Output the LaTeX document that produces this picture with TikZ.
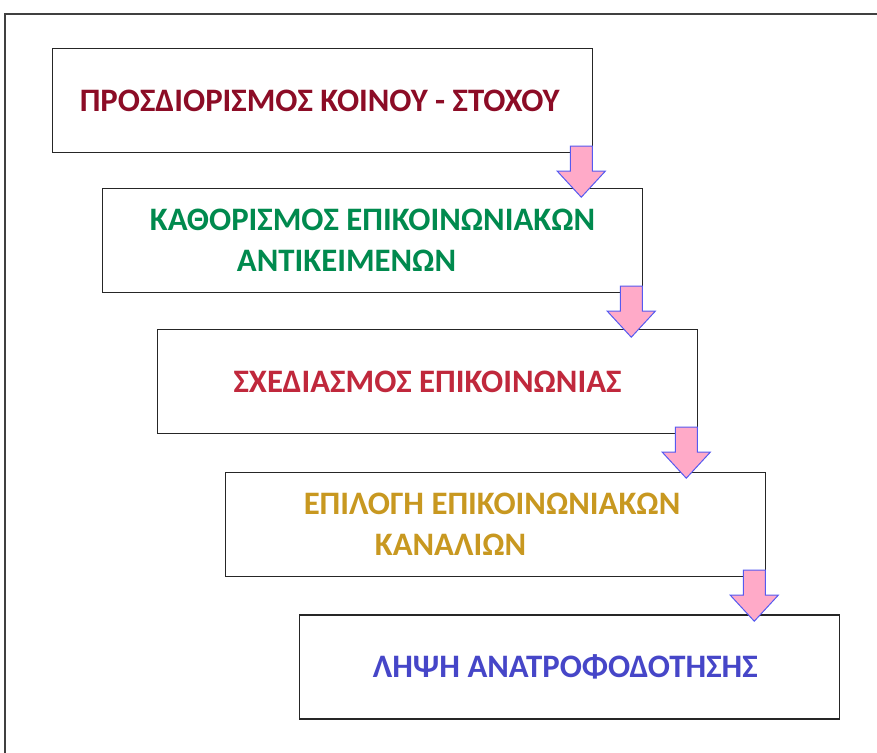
\documentclass[tikz,border=0pt]{standalone}
\usepackage{fontspec}
\setmainfont{Carlito}
\usepackage{tikz}
\usetikzlibrary{calc}

\definecolor{stepred}{RGB}{140,12,38}
\definecolor{stepgreen}{RGB}{0,138,78}
\definecolor{stepcrimson}{RGB}{192,40,60}
\definecolor{stepgold}{RGB}{200,152,32}
\definecolor{stepblue}{RGB}{70,70,200}
\definecolor{arrowpink}{RGB}{255,170,200}
\definecolor{arrowedge}{RGB}{85,90,240}

\tikzset{
  stage/.style={draw=black!85, line width=1pt, fill=white,
    minimum width=13.5cm, minimum height=2.6cm, inner sep=0pt,
    align=center, font=\fontsize{23.3}{29}\selectfont\bfseries},
}

\begin{document}
\begin{tikzpicture}[x=0.025cm, y=-0.025cm]
  \useasboundingbox (0,0) rectangle (877,753);
  % outer frame, cut by the page on the right and below
  \draw [black!75, line width=1pt] (5,770) -- (5,14) -- (890,14);

  \node [stage, text=stepred] (b1) at (322.5,100.5)
        {\hspace*{-4pt}ΠΡΟΣΔΙΟΡΙΣΜΟΣ ΚΟΙΝΟΥ - ΣΤΟΧΟΥ};
  \node [stage, text=stepgreen] (b2) at (372.5,240.5)
        {ΚΑΘΟΡΙΣΜΟΣ ΕΠΙΚΟΙΝΩΝΙΑΚΩΝ\\\hspace*{-37pt}ΑΝΤΙΚΕΙΜΕΝΩΝ};
  \node [stage, text=stepcrimson] (b3) at (427.5,381.5)
        {ΣΧΕΔΙΑΣΜΟΣ ΕΠΙΚΟΙΝΩΝΙΑΣ};
  \node [stage, text=stepgold] (b4) at (495.5,524.5)
        {\hspace*{-5pt}ΕΠΙΛΟΓΗ ΕΠΙΚΟΙΝΩΝΙΑΚΩΝ\\\hspace*{-64pt}ΚΑΝΑΛΙΩΝ};
  \node [stage, text=stepblue] (b5) at (569.5,667)
        {\hspace*{-6pt}ΛΗΨΗ ΑΝΑΤΡΟΦΟΔΟΤΗΣΗΣ};

  % block arrows from each box down to the next
  \foreach \up in {1,2,3,4} {
    \coordinate (top\up) at ($(b\up.south east)+(-12,-7)$);
    \fill [arrowpink, draw=arrowedge, line width=0.7pt]
      ($(top\up)+(-11,0)$) -- ($(top\up)+(11,0)$) -- ($(top\up)+(11,25)$)
      -- ($(top\up)+(24,25)$) -- ($(top\up)+(0,51)$) -- ($(top\up)+(-24,25)$)
      -- ($(top\up)+(-11,25)$) -- cycle;
  }
\end{tikzpicture}
\end{document}
